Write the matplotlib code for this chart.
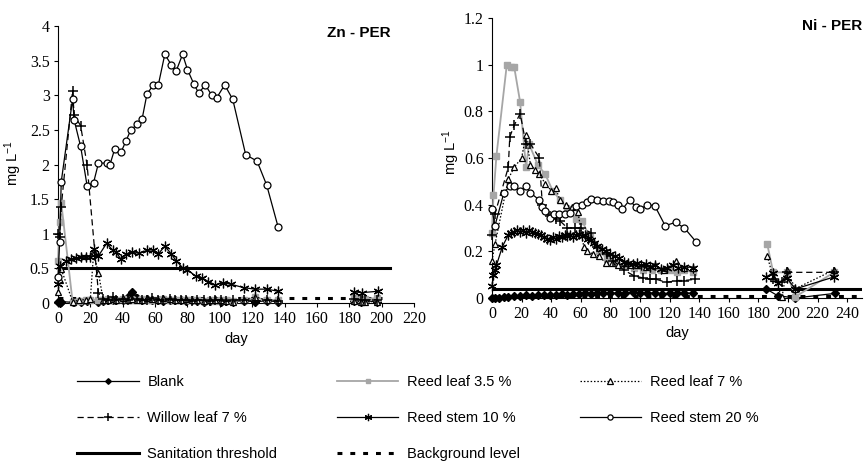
import numpy as np
import matplotlib.pyplot as plt
from matplotlib.lines import Line2D
from matplotlib.ticker import FormatStrFormatter

nan = np.nan

# ---------------- Zn - PER ----------------
zn_blank_days = [0, 1, 2, 9, 10, 14, 18, 25, 28, 31, 34, 36, 40, 43, 46, 49, 52, 55, 58, 62,
                 65, 69, 72, 76, 79, 83, 86, 90, 94, 97, 101, 104, 108, 115, 122, 129, 136, 160, 183, 187,
                 190, 197]
zn_blank = [0.01, 0.0, 0.02, 0.01, 0.02, 0.02, 0.03, 0.02, 0.03, 0.04,
            0.05, 0.04, 0.05, 0.08, 0.16, 0.07, 0.05, 0.06, 0.04, 0.05,
            0.03, 0.04, 0.05, 0.04, 0.03, 0.04, 0.03, 0.02, 0.03, 0.04,
            0.02, 0.03, 0.02, 0.03, 0.02, 0.03, 0.02, nan, 0.03, 0.02,
            0.03, 0.02]

zn_leaf35_days = [0, 1, 2, 9, 13, 17, 20, 25, 28, 31, 34, 36, 40, 43, 46, 49, 52, 55, 58, 62,
                  65, 69, 72, 76, 79, 83, 86, 90, 94, 97, 101, 104, 108, 115, 122, 129, 136, 160, 183, 187,
                  190, 197]
zn_leaf35 = [0.6, 1.17, 1.45, 0.02, 0.03, 0.04, 0.05, 0.04, 0.05, 0.06,
             0.04, 0.05, 0.06, 0.05, 0.04, 0.05, 0.06, 0.05, 0.04, 0.05,
             0.06, 0.05, 0.04, 0.05, 0.04, 0.05, 0.04, 0.03, 0.04, 0.03,
             0.04, 0.05, 0.03, 0.04, 0.08, 0.04, 0.05, nan, 0.07, 0.06,
             0.06, 0.07]

zn_leaf7_days = [0, 1, 2, 9, 13, 17, 20, 22, 25, 28, 31, 34, 36, 40, 43, 46, 49, 52, 55, 58,
                 62, 65, 69, 72, 76, 79, 83, 86, 90, 94, 97, 101, 104, 108, 115, 122, 129, 136, 160, 183,
                 187, 190, 197]
zn_leaf7 = [0.16, 0.33, 0.49, 0.02, 0.04, 0.05, 0.06, 0.72, 0.43, 0.04,
            0.05, 0.06, 0.04, 0.07, 0.05, 0.06, 0.04, 0.05, 0.07, 0.06,
            0.05, 0.07, 0.06, 0.04, 0.05, 0.06, 0.04, 0.05, 0.03, 0.04,
            0.05, 0.04, 0.03, 0.02, 0.05, 0.09, 0.04, 0.04, nan, 0.03,
            0.02, 0.02, 0.02]

zn_willow_days = [0, 1, 2, 9, 10, 14, 18, 25, 28, 31, 34, 36, 40, 43, 46, 49, 52, 55, 58, 62,
                  65, 69, 72, 76, 79, 83, 86, 90, 94, 97, 101, 104, 108, 115, 122, 129, 136, 160, 183, 187,
                  190, 197]
zn_willow = [1.0, 0.96, 1.39, 3.06, 2.71, 2.56, 1.99, 0.14, 0.06, 0.05,
             0.08, 0.04, 0.06, 0.05, 0.12, 0.06, 0.05, 0.04, 0.07, 0.05,
             0.04, 0.06, 0.05, 0.04, 0.05, 0.03, 0.05, 0.04, 0.03, 0.05,
             0.04, 0.03, 0.04, 0.05, 0.03, 0.04, 0.03, nan, 0.06, 0.05,
             0.04, 0.05]

zn_stem10_days = [0, 1, 5, 8, 11, 14, 17, 20, 22, 25, 30, 34, 36, 39, 42, 46, 50, 55, 59, 62,
                  66, 70, 73, 77, 80, 85, 89, 93, 97, 102, 107, 115, 122, 129, 136, 160, 183, 188, 198]
zn_stem10 = [0.28, 0.53, 0.6, 0.63, 0.65, 0.66, 0.66, 0.67, 0.78, 0.68,
             0.86, 0.76, 0.73, 0.63, 0.71, 0.73, 0.72, 0.76, 0.77, 0.71,
             0.82, 0.71, 0.61, 0.51, 0.48, 0.39, 0.36, 0.31, 0.26, 0.29,
             0.27, 0.22, 0.2, 0.2, 0.17, nan, 0.16, 0.15, 0.17]

zn_stem20_days = [0, 1, 2, 9, 10, 14, 18, 22, 25, 30, 32, 35, 39, 42, 45, 49, 52, 55, 59, 62,
                  66, 70, 73, 77, 80, 84, 87, 91, 95, 98, 103, 108, 116, 123, 129, 136]
zn_stem20 = [0.38, 0.88, 1.75, 2.94, 2.64, 2.26, 1.69, 1.74, 2.02, 2.02,
             1.99, 2.22, 2.18, 2.34, 2.50, 2.58, 2.66, 3.02, 3.15, 3.15,
             3.59, 3.44, 3.35, 3.59, 3.37, 3.16, 3.03, 3.15, 3.0, 2.96,
             3.15, 2.94, 2.14, 2.05, 1.70, 1.10]

zn_threshold = 0.5
zn_threshold_days = [0, 205]
zn_background = 0.07
zn_background_days = [0, 200]

# ---------------- Ni - PER ----------------
ni_blank_days = [0, 2, 5, 8, 11, 15, 19, 23, 27, 31, 35, 39, 43, 47, 51, 55, 59, 63, 67, 71,
                 75, 80, 85, 90, 95, 100, 105, 110, 115, 120, 125, 130, 136, 160, 185, 193, 205, 232]
ni_blank = [0.0, 0.0, 0.0, 0.005, 0.005, 0.01, 0.008, 0.012, 0.01, 0.015,
            0.012, 0.015, 0.014, 0.016, 0.015, 0.018, 0.016, 0.02, 0.018, 0.02,
            0.02, 0.022, 0.02, 0.022, 0.025, 0.02, 0.022, 0.02, 0.018, 0.02,
            0.02, 0.022, 0.02, nan, 0.04, 0.01, 0.0, 0.02]

ni_leaf35_days = [0, 1, 3, 10, 13, 15, 19, 23, 25, 31, 36, 41, 46, 51, 57, 61, 66, 72, 78, 84,
                  90, 96, 102, 108, 114, 120, 125, 130, 136, 160, 186, 190, 199, 205, 231]
ni_leaf35 = [0.28, 0.44, 0.61, 1.0, 0.99, 0.99, 0.84, 0.56, 0.66, 0.57,
             0.53, 0.46, 0.42, 0.38, 0.34, 0.33, 0.26, 0.2, 0.17, 0.15,
             0.14, 0.13, 0.12, 0.12, 0.12, 0.12, 0.11, 0.12, 0.11, nan,
             0.23, 0.11, 0.11, 0.005, 0.11]

ni_leaf7_days = [0, 2, 11, 15, 20, 23, 26, 29, 32, 36, 40, 43, 46, 50, 54, 58, 62, 64, 68, 72,
                 77, 81, 85, 89, 93, 98, 104, 110, 116, 124, 130, 136, 160, 186, 190, 196, 199, 205, 231]
ni_leaf7 = [0.16, 0.23, 0.51, 0.56, 0.60, 0.70, 0.57, 0.55, 0.53, 0.49,
            0.46, 0.47, 0.42, 0.40, 0.39, 0.37, 0.22, 0.20, 0.19, 0.18,
            0.15, 0.15, 0.14, 0.15, 0.14, 0.14, 0.135, 0.14, 0.12, 0.16,
            0.13, 0.13, nan, 0.18, 0.086, 0.005, 0.12, 0.04, 0.12]

ni_willow_days = [0, 2, 11, 12, 15, 19, 23, 26, 32, 34, 39, 43, 46, 51, 56, 60, 67, 71, 78, 82,
                  89, 96, 102, 107, 111, 118, 125, 130, 137, 160, 190, 196, 199, 231]
ni_willow = [0.27, 0.36, 0.56, 0.69, 0.74, 0.79, 0.66, 0.66, 0.60, 0.40,
             0.35, 0.34, 0.33, 0.30, 0.30, 0.30, 0.28, 0.22, 0.19, 0.16,
             0.12, 0.095, 0.086, 0.08, 0.08, 0.067, 0.075, 0.075, 0.08, nan,
             0.08, 0.067, 0.11, 0.11]

ni_stem10_days = [0, 1, 2, 3, 7, 11, 13, 15, 17, 19, 21, 23, 25, 27, 29, 31, 33, 35, 37, 39,
                  41, 43, 45, 47, 49, 51, 53, 55, 57, 59, 61, 63, 65, 67, 69, 71, 74, 77, 80, 83,
                  86, 89, 92, 95, 98, 101, 104, 107, 110, 114, 118, 122, 126, 130, 136, 160, 185, 190, 193, 199,
                  205, 231]
ni_stem10 = [0.05, 0.10, 0.12, 0.14, 0.22, 0.27, 0.28, 0.285, 0.29, 0.285,
             0.29, 0.28, 0.29, 0.285, 0.28, 0.275, 0.27, 0.26, 0.255, 0.25,
             0.26, 0.255, 0.265, 0.26, 0.27, 0.265, 0.27, 0.26, 0.27, 0.275,
             0.265, 0.27, 0.255, 0.25, 0.235, 0.225, 0.21, 0.2, 0.19, 0.18,
             0.17, 0.155, 0.15, 0.145, 0.15, 0.14, 0.145, 0.135, 0.14, 0.125,
             0.13, 0.14, 0.13, 0.135, 0.13, nan, 0.09, 0.107, 0.064, 0.086,
             0.039, 0.09]

ni_stem20_days = [0, 2, 8, 12, 15, 19, 23, 26, 32, 34, 36, 39, 42, 45, 49, 53, 57, 61, 64, 67,
                  71, 75, 79, 82, 85, 88, 93, 97, 100, 105, 110, 117, 124, 130, 138]
ni_stem20 = [0.38, 0.31, 0.45, 0.48, 0.48, 0.46, 0.48, 0.45, 0.42, 0.39,
             0.375, 0.345, 0.36, 0.36, 0.36, 0.364, 0.395, 0.40, 0.41, 0.424,
             0.42, 0.414, 0.414, 0.41, 0.40, 0.38, 0.42, 0.39, 0.38, 0.40,
             0.395, 0.31, 0.324, 0.30, 0.24]

ni_threshold = 0.04
ni_threshold_days = [0, 250]
ni_background = 0.01
ni_background_days = [0, 250]

labels = ['Blank', 'Reed leaf 3.5 %', 'Reed leaf 7 %', 'Willow leaf 7 %',
          'Reed stem 10 %', 'Reed stem 20 %', 'Sanitation threshold', 'Background level']

GREY = '#a6a6a6'
styles = [
    dict(color='black', marker='D', ms=3.8, mfc='black', mec='black', ls='-', lw=0.9),
    dict(color=GREY, marker='s', ms=4.5, mfc=GREY, mec=GREY, ls='-', lw=1.3),
    dict(color='black', marker='^', ms=5, mfc='white', mec='black', mew=0.9, ls=(0, (1.2, 1.5)), lw=0.9),
    dict(color='black', marker='+', ms=7, mew=1.1, ls=(0, (5, 3)), lw=0.9),
    dict(color='black', marker=(6, 2, 0), ms=7, mew=0.9, ls='-', lw=0.9),
    dict(color='black', marker='o', ms=5, mfc='white', mec='black', mew=0.9, ls='-', lw=0.9),
]
thr_style = dict(color='black', lw=2.2, ls='-')
bg_style = dict(color='black', lw=2.2, ls=(0, (1.6, 2.6)))

plt.rcParams['mathtext.default'] = 'regular'
fig = plt.figure(figsize=(8.65, 4.61), dpi=100)
W, H = 865, 461
ax1 = fig.add_axes([58 / W, 1 - 303 / H, (414 - 58) / W, (303 - 26) / H])
ax2 = fig.add_axes([492 / W, 1 - 298 / H, (862 - 492) / W, (298 - 18) / H])

zn_series = [(zn_blank_days, zn_blank), (zn_leaf35_days, zn_leaf35), (zn_leaf7_days, zn_leaf7),
             (zn_willow_days, zn_willow), (zn_stem10_days, zn_stem10), (zn_stem20_days, zn_stem20)]
ni_series = [(ni_blank_days, ni_blank), (ni_leaf35_days, ni_leaf35), (ni_leaf7_days, ni_leaf7),
             (ni_willow_days, ni_willow), (ni_stem10_days, ni_stem10), (ni_stem20_days, ni_stem20)]

draw_order = [1, 0, 2, 3, 4, 5]


def draw_panel(ax, series, thr, thr_days, bg, bg_days):
    ax.plot(thr_days, [thr, thr], zorder=2, **thr_style)
    ax.plot(bg_days, [bg, bg], zorder=2, **bg_style)
    for i in draw_order:
        d, v = series[i]
        ax.plot(d, v, zorder=3 + i, clip_on=False, **styles[i])
    for s in ['top', 'right']:
        ax.spines[s].set_visible(False)
    for s in ['left', 'bottom']:
        ax.spines[s].set_linewidth(0.8)
    ax.tick_params(direction='out', length=3, width=0.8, labelsize=11.5, pad=3)
    for lab in ax.get_xticklabels() + ax.get_yticklabels():
        lab.set_family('Liberation Serif')
    ax.yaxis.set_major_formatter(FormatStrFormatter('%g'))
    ax.set_xlabel('day', fontsize=10.5, family='Liberation Sans', labelpad=3)


ax1.set_xlim(0, 220)
ax1.set_ylim(0, 4)
ax1.set_xticks(np.arange(0, 221, 20))
ax1.set_yticks(np.arange(0, 4.01, 0.5))
draw_panel(ax1, zn_series, zn_threshold, zn_threshold_days, zn_background, zn_background_days)
ax1.text(0.845, 0.975, 'Zn - PER', transform=ax1.transAxes, ha='center', va='center',
         fontsize=11, fontweight='bold', family='Liberation Sans')

ax2.set_xlim(0, 250)
ax2.set_ylim(0, 1.2)
ax2.set_xticks(np.arange(0, 241, 20))
ax2.set_yticks(np.arange(0, 1.21, 0.2))
draw_panel(ax2, ni_series, ni_threshold, ni_threshold_days, ni_background, ni_background_days)
ax2.text(0.92, 0.97, 'Ni - PER', transform=ax2.transAxes, ha='center', va='center',
         fontsize=11, fontweight='bold', family='Liberation Sans')

fig.text(13 / W, 1 - 163 / H, 'mg L$^{-1}$', rotation=90, ha='center', va='center',
         fontsize=10.5, family='Liberation Sans')
fig.text(451 / W, 1 - 152 / H, 'mg L$^{-1}$', rotation=90, ha='center', va='center',
         fontsize=10.5, family='Liberation Sans')

# legend (smaller markers, as in the original)
handles = []
for i in range(6):
    st = dict(styles[i])
    st['ms'] = st['ms'] * 0.75
    handles.append(Line2D([], [], **st))
handles.append(Line2D([], [], **thr_style))
handles.append(Line2D([], [], **bg_style))
order = [0, 3, 6, 1, 4, 7, 2, 5]
leg = fig.legend([handles[i] for i in order], [labels[i] for i in order], ncol=3,
                 loc='upper left', bbox_to_anchor=(70 / W, 1 - 368 / H), frameon=False,
                 prop={'family': 'Liberation Sans', 'size': 10.5}, handlelength=4.2,
                 handletextpad=0.6, columnspacing=4.1, labelspacing=1.5, borderpad=0)

fig.savefig('out.png', dpi=100)
